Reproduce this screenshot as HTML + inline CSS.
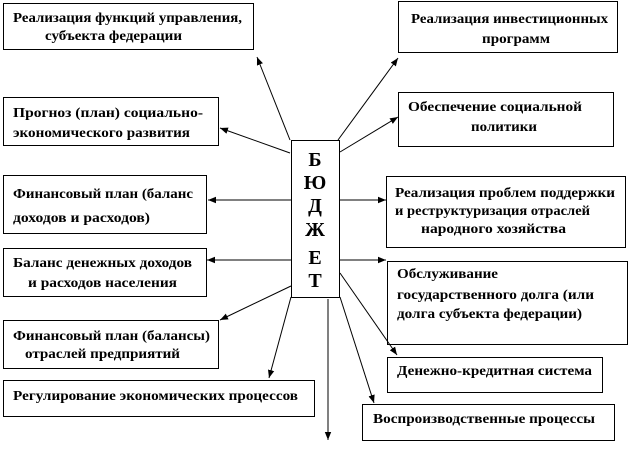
<!DOCTYPE html>
<html><head><meta charset="utf-8"><style>
html,body{margin:0;padding:0;background:#fff;}
svg{display:block;}
svg text{font-family:'Liberation Serif','Times New Roman',serif !important;font-weight:700;font-size:14px;fill:#000;}
svg text.big{font-size:20px;}
</style></head><body>
<svg width="630" height="471" viewBox="0 0 630 471" xmlns="http://www.w3.org/2000/svg" font-family="Liberation Serif, serif">
<defs><marker id="a" viewBox="0 0 10 10" refX="10" refY="5" markerWidth="8" markerHeight="8" orient="auto" markerUnits="userSpaceOnUse"><path d="M0,1 L10,5 L0,9 z" fill="#000"/></marker></defs>
<g fill="none" stroke="#000" stroke-width="1">
<rect x="3.5" y="3.5" width="250" height="46"/>
<rect x="3.5" y="97.5" width="215" height="48"/>
<rect x="3.5" y="175.5" width="203" height="58"/>
<rect x="3.5" y="248.5" width="203" height="48"/>
<rect x="3.5" y="320.5" width="215" height="48"/>
<rect x="3.5" y="380.5" width="311" height="36"/>
<rect x="291.5" y="140.5" width="48" height="157"/>
<rect x="398.5" y="1.5" width="219" height="51"/>
<rect x="398.5" y="92.5" width="215" height="54"/>
<rect x="386.5" y="176.5" width="239" height="71"/>
<rect x="387.5" y="261.5" width="240" height="83"/>
<rect x="387.5" y="357.5" width="215" height="35"/>
<rect x="362.5" y="404.5" width="252" height="36"/>
</g>
<g stroke="#000" stroke-width="1" marker-end="url(#a)">
<line x1="290" y1="140" x2="257" y2="57"/>
<line x1="290" y1="153" x2="220" y2="128"/>
<line x1="291" y1="200" x2="208" y2="200"/>
<line x1="291" y1="260" x2="207" y2="260"/>
<line x1="291" y1="286" x2="220" y2="320"/>
<line x1="291" y1="297" x2="269" y2="378"/>
<line x1="328" y1="299" x2="328" y2="440"/>
<line x1="338" y1="140" x2="398" y2="58"/>
<line x1="340" y1="152" x2="398" y2="117"/>
<line x1="340" y1="200" x2="386" y2="200"/>
<line x1="340" y1="260" x2="386" y2="260"/>
<line x1="340" y1="273" x2="397" y2="355"/>
<line x1="340" y1="297" x2="374" y2="403"/>
</g>
<text x="13" y="22" textLength="229" lengthAdjust="spacingAndGlyphs">Реализация функций управления,</text>
<text x="45" y="40" textLength="137" lengthAdjust="spacingAndGlyphs">субъекта федерации</text>
<text x="13" y="117" textLength="190" lengthAdjust="spacingAndGlyphs">Прогноз (план) социально-</text>
<text x="13" y="137" textLength="177" lengthAdjust="spacingAndGlyphs">экономического развития</text>
<text x="13" y="198" textLength="180" lengthAdjust="spacingAndGlyphs">Финансовый план (баланс</text>
<text x="13" y="222" textLength="137" lengthAdjust="spacingAndGlyphs">доходов и расходов)</text>
<text x="13" y="267" textLength="179" lengthAdjust="spacingAndGlyphs">Баланс денежных доходов</text>
<text x="28" y="287" textLength="149" lengthAdjust="spacingAndGlyphs">и расходов населения</text>
<text x="13" y="340" textLength="197" lengthAdjust="spacingAndGlyphs">Финансовый план (балансы)</text>
<text x="25" y="358" textLength="155" lengthAdjust="spacingAndGlyphs">отраслей предприятий</text>
<text x="13" y="400" textLength="285" lengthAdjust="spacingAndGlyphs">Регулирование экономических процессов</text>
<text x="411" y="23" textLength="197" lengthAdjust="spacingAndGlyphs">Реализация инвестиционных</text>
<text x="482" y="43" textLength="68" lengthAdjust="spacingAndGlyphs">программ</text>
<text x="408" y="111" textLength="174" lengthAdjust="spacingAndGlyphs">Обеспечение социальной</text>
<text x="471" y="131" textLength="66" lengthAdjust="spacingAndGlyphs">политики</text>
<text x="395" y="197" textLength="220" lengthAdjust="spacingAndGlyphs">Реализация проблем поддержки</text>
<text x="395" y="215" textLength="195" lengthAdjust="spacingAndGlyphs">и реструктуризация отраслей</text>
<text x="421" y="233" textLength="145" lengthAdjust="spacingAndGlyphs">народного хозяйства</text>
<text x="397" y="278" textLength="101" lengthAdjust="spacingAndGlyphs">Обслуживание</text>
<text x="397" y="299" textLength="197" lengthAdjust="spacingAndGlyphs">государственного долга (или</text>
<text x="397" y="318" textLength="185" lengthAdjust="spacingAndGlyphs">долга субъекта федерации)</text>
<text x="397" y="375" textLength="195" lengthAdjust="spacingAndGlyphs">Денежно-кредитная система</text>
<text x="373" y="423" textLength="222" lengthAdjust="spacingAndGlyphs">Воспроизводственные процессы</text>
<text class="big" x="315" y="166" text-anchor="middle">Б</text>
<text class="big" x="315" y="189" text-anchor="middle">Ю</text>
<text class="big" x="315" y="212" text-anchor="middle">Д</text>
<text class="big" x="315" y="236" text-anchor="middle">Ж</text>
<text class="big" x="315" y="264" text-anchor="middle">Е</text>
<text class="big" x="315" y="287" text-anchor="middle">Т</text>
</svg>
</body></html>
